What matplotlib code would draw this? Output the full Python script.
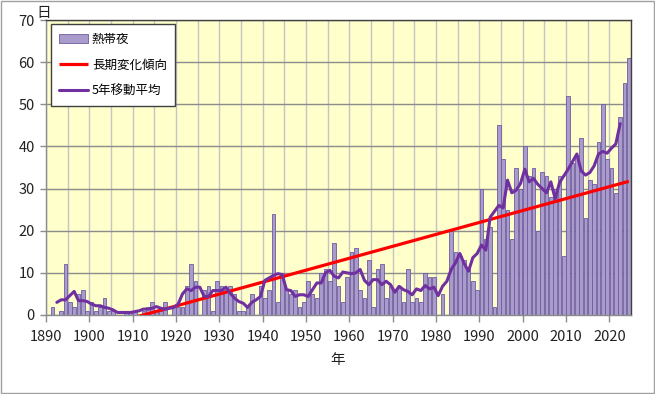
import matplotlib
matplotlib.use("Agg")
import matplotlib.pyplot as plt
from matplotlib.patches import Rectangle
from matplotlib.ticker import MultipleLocator
import numpy as np
import pandas as pd

plt.rcParams['font.family'] = ['Noto Sans CJK JP', 'DejaVu Sans']

years = list(range(1890, 2025))
nights = [
    0, 2, 0, 1, 12, 3, 2, 5, 6, 1,          # 1890s
    3, 1, 2, 4, 1, 1, 0, 0, 1, 1,           # 1900s
    1, 0, 1, 2, 3, 1, 1, 3, 0, 2,           # 1910s
    2, 2, 7, 12, 8, 0, 6, 7, 1, 8,          # 1920s
    7, 6, 7, 5, 1, 1, 2, 5, 0, 7,           # 1930s
    4, 6, 24, 3, 10, 6, 5, 6, 2, 3,         # 1940s
    8, 5, 4, 10, 11, 8, 17, 7, 3, 9,        # 1950s
    15, 16, 6, 4, 13, 2, 11, 12, 4, 7,      # 1960s
    6, 7, 3, 11, 3, 4, 3, 10, 9, 9,         # 1970s
    0, 5, 0, 20, 15, 14, 13, 11, 8, 6,      # 1980s
    30, 18, 21, 2, 45, 37, 25, 18, 35, 30,  # 1990s
    40, 33, 35, 20, 34, 33, 28, 30, 33, 14, # 2000s
    52, 36, 38, 42, 23, 32, 31, 41, 50, 37, # 2010s
    35, 29, 47, 55, 61,                     # 2020s
]
x_ticks = list(range(1890, 2021, 10))
y_ticks = list(range(0, 71, 10))
legend_labels = ['熱帯夜', '長期変化傾向', '5年移動平均']

yrs = np.array(years, dtype=float)
vals = np.array(nights, dtype=float)
xpos = yrs + 0.5

# derived series (as in the original chart)
ma5 = pd.Series(vals).rolling(5, center=True).mean().to_numpy()
coef = np.polyfit(yrs, vals, 1)
trend = np.polyval(coef, yrs)

fig = plt.figure(figsize=(6.55, 3.94), dpi=100)
ax = fig.add_axes([46/655, 1-315/394, 585/655, 295/394])
ax.set_facecolor('#FFFFCC')

bars = ax.bar(xpos, vals, width=0.82, color='#A99BCB', edgecolor='#6F5C9F',
              linewidth=0.6, zorder=2, label=legend_labels[0])
l1, = ax.plot(xpos, trend, color='#FF0000', lw=2.3, zorder=3,
              solid_capstyle='butt', label=legend_labels[1])
l2, = ax.plot(xpos, ma5, color='#7030A0', lw=2.2, zorder=4,
              solid_capstyle='round', label=legend_labels[2])

ax.set_xlim(1890, 2025)
ax.set_ylim(0, 70)
ax.set_xticks(x_ticks)
ax.xaxis.set_minor_locator(MultipleLocator(5))
ax.set_yticks(y_ticks)
ax.set_axisbelow(True)
ax.grid(axis='y', which='major', color='#8C8C8C', lw=1.0, zorder=0)
ax.grid(axis='x', which='both', color='#C4C4C4', lw=1.0, zorder=0)

for s in ['top', 'right']:
    ax.spines[s].set_color('#404040')
    ax.spines[s].set_linewidth(1.0)
for s in ['left', 'bottom']:
    ax.spines[s].set_color('#8C8C8C')
    ax.spines[s].set_linewidth(1.0)

ax.tick_params(axis='x', which='major', length=5, width=1, color='#8C8C8C',
               pad=6, labelsize=10.5, labelcolor='#222222')
ax.tick_params(axis='x', which='minor', length=0)
ax.tick_params(axis='y', which='major', length=4, width=1, color='#8C8C8C',
               pad=4, labelsize=10.5, labelcolor='#222222')

leg = ax.legend(handles=[bars, l1, l2], labels=legend_labels,
                loc='upper left', bbox_to_anchor=(0.009, 0.985),
                borderaxespad=0, fontsize=9, frameon=True, fancybox=False,
                edgecolor='#404040', facecolor='white', framealpha=1,
                labelspacing=1.05, handlelength=2.3, handletextpad=0.3,
                borderpad=0.65)
leg.get_frame().set_linewidth(1.0)
leg.set_zorder(10)

fig.text(44/655, 1-13/394, '日', ha='center', va='center', fontsize=10.5,
         color='#222222')
fig.text(338/655, 1-360/394, '年', ha='center', va='center', fontsize=10.5,
         color='#222222')

fig.patches.append(Rectangle((0.001, 0.002), 0.997, 0.996, transform=fig.transFigure,
                             fill=False, edgecolor='#A0A0A0', lw=1.0))

fig.savefig('out.png', dpi=100, facecolor='white')
